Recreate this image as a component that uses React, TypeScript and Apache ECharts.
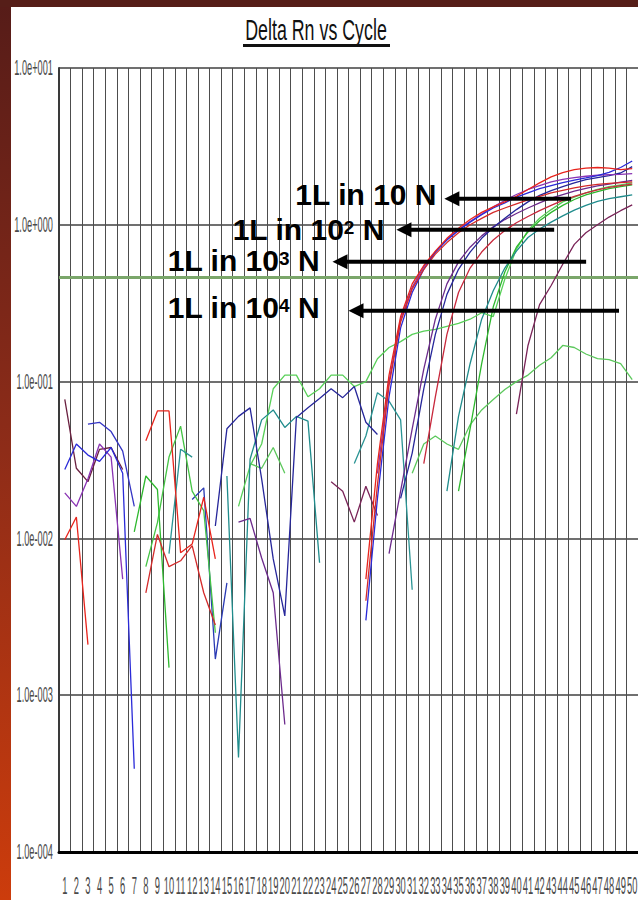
import React, { useEffect, useRef } from "react";
import * as echarts from "echarts";

const _ = null;

const cycles = [
  "1", "2", "3", "4", "5", "6", "7", "8", "9", "10",
  "11", "12", "13", "14", "15", "16", "17", "18", "19", "20",
  "21", "22", "23", "24", "25", "26", "27", "28", "29", "30",
  "31", "32", "33", "34", "35", "36", "37", "38", "39", "40",
  "41", "42", "43", "44", "45", "46", "47", "48", "49", "50",
];

const yTickValues = [10, 1, 0.1, 0.01, 0.001, 0.0001];
const yTickLabels = ["1.0e+001", "1.0e+000", "1.0e-001", "1.0e-002", "1.0e-003", "1.0e-004"];

const threshold = 0.46;

// ---- wells (Delta Rn per cycle, null = no plottable value) ----
const wellA1 = [
  0.0098, 0.0137, 0.0021, _, _, _, _, 0.042, 0.065, 0.065,
  0.0081, 0.0092, 0.0183, 0.0074, _, _, _, _, _, _,
  _, _, _, _, _, _, 0.0055, 0.03, 0.11, 0.26,
  0.42, 0.55, 0.68, 0.82, 0.95, 1.08, 1.2, 1.3, 1.4, 1.52,
  1.68, 1.85, 2.02, 2.15, 2.25, 2.3, 2.32, 2.3, 2.25, 2.28,
];
const wellA2 = [
  _, _, _, _, _, _, _, 0.0045, 0.0106, 0.0066,
  0.0072, 0.009, 0.0045, 0.0028, _, _, _, _, _, _,
  _, _, _, _, _, _, 0.004, 0.022, 0.095, 0.24,
  0.39, 0.52, 0.65, 0.77, 0.89, 1.0, 1.1, 1.2, 1.28, 1.36,
  1.44, 1.52, 1.6, 1.66, 1.72, 1.77, 1.81, 1.84, 1.86, 1.88,
];
const wellA3 = [
  0.0275, 0.04, 0.034, 0.031, 0.038, 0.026, 0.00034, _, _, _,
  _, _, _, _, _, _, _, _, _, _,
  _, _, _, _, _, _, 0.003, 0.018, 0.08, 0.22,
  0.37, 0.52, 0.67, 0.8, 0.92, 1.04, 1.16, 1.28, 1.38, 1.5,
  1.6, 1.7, 1.78, 1.86, 1.93, 1.99, 2.06, 2.16, 2.32, 2.55,
];
const wellA4 = [
  0.0195, 0.016, 0.024, 0.04, 0.033, 0.0055, _, _, _, _,
  _, _, _, _, _, _, _, _, _, _,
  _, _, _, _, _, _, _, 0.026, 0.1, 0.25,
  0.4, 0.54, 0.67, 0.81, 0.93, 1.05, 1.17, 1.3, 1.43, 1.56,
  1.68, 1.78, 1.88, 1.95, 2.0, 2.04, 2.07, 2.09, 2.1, 2.12,
];
const wellB1 = [
  _, _, _, _, _, _, _, _, _, _,
  _, _, _, _, _, 0.0127, 0.0134, 0.0075, 0.0045, 0.00065,
  _, _, _, _, _, _, _, _, 0.008, 0.02,
  0.05, 0.12, 0.25, 0.42, 0.58, 0.72, 0.85, 0.97, 1.08, 1.18,
  1.28, 1.38, 1.48, 1.56, 1.64, 1.71, 1.77, 1.82, 1.87, 1.92,
];
const wellB2 = [
  _, _, _, _, _, _, _, _, _, _,
  _, _, _, 0.012, 0.05, 0.06, 0.068, 0.024, 0.0074, 0.0032,
  0.059, 0.068, 0.078, 0.09, 0.079, 0.093, 0.055, 0.046, _, 0.018,
  0.035, 0.09, 0.2, 0.36, 0.52, 0.67, 0.82, 0.96, 1.1, 1.25,
  1.4, 1.54, 1.65, 1.75, 1.85, 1.94, 2.0, 2.06, 2.14, 2.35,
];
const wellB3 = [
  _, _, _, _, _, _, _, _, _, _,
  _, _, _, _, _, _, _, _, _, _,
  _, _, _, _, _, _, _, _, _, _,
  _, 0.03, 0.08, 0.2, 0.37, 0.53, 0.67, 0.8, 0.92, 1.03,
  1.13, 1.23, 1.33, 1.43, 1.52, 1.6, 1.67, 1.73, 1.78, 1.82,
];
const wellC1 = [
  _, _, _, _, _, _, _, _, _, _,
  _, _, _, _, 0.025, 0.0004, 0.032, 0.057, 0.066, 0.051,
  0.06, 0.056, 0.007, _, _, _, _, _, _, _,
  _, _, _, 0.02, 0.06, 0.13, 0.25, 0.38, 0.53, 0.68,
  0.83, 0.94, 1.04, 1.14, 1.24, 1.33, 1.41, 1.47, 1.51, 1.55,
];
const wellC2 = [
  _, _, _, _, _, _, 0.011, 0.025, 0.0205, 0.0015,
  _, _, _, _, _, _, _, _, _, _,
  _, _, _, _, _, _, _, _, _, _,
  _, _, _, _, 0.02, 0.05, 0.13, 0.3, 0.5, 0.72,
  0.9, 1.06, 1.2, 1.33, 1.45, 1.55, 1.63, 1.7, 1.75, 1.8,
];
const wellC3 = [
  _, _, _, _, _, _, _, _, _, _,
  _, _, _, _, _, 0.016, 0.029, 0.04, 0.09, 0.11,
  0.11, 0.08, 0.09, 0.11, 0.11, 0.093, 0.1, 0.14, 0.165, 0.18,
  0.2, 0.21, 0.215, 0.225, 0.235, 0.25, 0.275, 0.26, 0.45, 0.7,
  0.92, 1.1, 1.25, 1.4, 1.5, 1.6, 1.68, 1.75, 1.8, 1.85,
];
const wellG2 = [
  _, _, _, _, _, _, _, _, _, _,
  _, _, _, _, _, _, 0.03, 0.028, 0.038, 0.026,
  _, _, _, _, _, _, _, _, _, _,
  0.026, 0.04, 0.045, 0.04, 0.037, 0.053, 0.066, 0.077, 0.089, 0.1,
  0.11, 0.127, 0.142, 0.17, 0.165, 0.15, 0.14, 0.138, 0.13, 0.103,
];
const wellD1 = [
  _, _, _, _, _, _, _, _, _, _,
  _, _, _, _, _, _, _, _, _, _,
  _, _, _, 0.023, 0.02, 0.0127, 0.0215, 0.014, _, _,
  _, _, _, _, _, _, _, _, _, 0.062,
  0.17, 0.31, 0.41, 0.56, 0.75, 0.89, 1.0, 1.12, 1.23, 1.34,
];
const wellN1 = [
  0.077, 0.028, 0.023, 0.037, 0.038, 0.0275, _, _, _, _,
  _, _, _, _, _, _, _, _, _, _,
  _, _, _, _, _, _, _, _, _, _,
  _, _, _, _, _, _, _, _, _, _,
  _, _, _, _, _, _, _, _, _, _,
];
const wellN2 = [
  _, _, _, _, _, _, _, _, _, 0.008,
  0.037, 0.033, _, _, _, _, _, _, _, _,
  _, _, _, _, _, 0.03, 0.045, 0.085, 0.075, 0.057,
  0.0047, _, _, _, _, _, _, _, _, _,
  _, _, _, _, _, _, _, _, _, _,
];
const wellN4 = [
  _, _, 0.0535, 0.055, 0.048, 0.036, 0.016, _, _, _,
  _, _, _, _, _, _, _, _, _, _,
  _, _, _, _, _, _, _, _, _, _,
  _, _, _, _, _, _, _, _, _, _,
  _, _, _, _, _, _, _, _, _, _,
];
const wellN5 = [
  _, _, _, _, _, _, _, _, _, _,
  _, 0.0177, 0.021, 0.0017, 0.0052, _, _, _, _, _,
  _, _, _, _, _, _, _, _, _, _,
  _, _, _, _, _, _, _, _, _, _,
  _, _, _, _, _, _, _, _, _, _,
];
const wellN6 = [
  _, _, _, _, _, _, _, 0.0066, 0.0126, 0.033,
  0.052, 0.02, 0.015, 0.0025, _, _, _, _, _, _,
  _, _, _, _, _, _, _, _, _, _,
  _, _, _, _, _, _, _, _, _, _,
  _, _, _, _, _, _, _, _, _, _,
];

const wells: [string, (number | null)[], string][] = [
  ["N1", wellN1, "#6a2040"],
  ["N4", wellN4, "#3434c4"],
  ["N5", wellN5, "#2a3ab4"],
  ["N6", wellN6, "#44c444"],
  ["N2", wellN2, "#2a9494"],
  ["G2", wellG2, "#5cc85c"],
  ["C3", wellC3, "#58d058"],
  ["C2", wellC2, "#2eb82e"],
  ["C1", wellC1, "#1f8c8c"],
  ["D1", wellD1, "#7a2458"],
  ["B3", wellB3, "#c8283c"],
  ["B1", wellB1, "#6c2a8c"],
  ["B2", wellB2, "#26269a"],
  ["A4", wellA4, "#8a34b4"],
  ["A3", wellA3, "#2a2ad8"],
  ["A2", wellA2, "#d42a2a"],
  ["A1", wellA1, "#e8241c"],
];

// annotation anchors in data space (cycle, Delta Rn)
const annotations = [
  { text: "1L in 10", sup: "", textEnd: 33.1, tip: 33.78, tail: 44.72, level: 1.464, dy: -4 },
  { text: "1L in 10", sup: "2", textEnd: 28.6, tip: 29.64, tail: 43.26, level: 0.929, dy: 0 },
  { text: "1L in 10", sup: "3", textEnd: 23.0, tip: 24.12, tail: 46.02, level: 0.581, dy: -1 },
  { text: "1L in 10", sup: "4", textEnd: 23.0, tip: 25.5, tail: 48.86, level: 0.283, dy: -3 },
];

const titleText = "Delta Rn vs Cycle";
const SANS = "'Liberation Sans', Arial, Helvetica, sans-serif";

export default function App() {
  const ref = useRef<HTMLDivElement>(null);
  useEffect(() => {
    const el = ref.current;
    if (!el) return;
    const chart = echarts.init(el, null, { renderer: "svg" });

    const series: any[] = wells.map(([name, data, color], i) => ({
      name,
      type: "line",
      data,
      showSymbol: false,
      symbol: "none",
      connectNulls: false,
      lineStyle: { color, width: 1.3 },
      itemStyle: { color },
      z: 3,
      ...(i === 0
        ? {
            markLine: {
              silent: true,
              symbol: ["none", "none"],
              label: { show: false },
              lineStyle: { color: "#7aa66a", width: 3, type: "solid" },
              data: [{ yAxis: threshold }],
              z: 2,
            },
          }
        : {}),
    }));

    chart.setOption({
      animation: false,
      backgroundColor: "#ffffff",
      grid: { left: 59, top: 68, width: 580, height: 784, containLabel: false },
      xAxis: {
        type: "category",
        data: cycles,
        boundaryGap: true,
        axisLine: { onZero: false, lineStyle: { color: "#000000", width: 3 } },
        axisTick: { show: false },
        axisLabel: { show: false },
        splitLine: { show: true, interval: 0, lineStyle: { color: "#4d4d4d", width: 1 } },
      },
      yAxis: {
        type: "log",
        logBase: 10,
        min: 0.0001,
        max: 10,
        axisLine: { show: true, lineStyle: { color: "#3a3a3a", width: 2 } },
        axisTick: { show: false },
        axisLabel: { show: false },
        splitLine: { show: true, lineStyle: { color: "#707070", width: 2 } },
      },
      series,
    });

    const x0 = chart.convertToPixel({ xAxisIndex: 0 }, 0) as number;
    const x1 = chart.convertToPixel({ xAxisIndex: 0 }, 1) as number;
    const step = x1 - x0;
    const xAt = (c: number) => x0 + (c - 1) * step;
    const yAt = (v: number) => chart.convertToPixel({ yAxisIndex: 0 }, v) as number;

    const scaledText = (
      text: string, x: number, y: number, size: number, sx: number, sy: number,
      align: string, fill: string
    ) => ({
      type: "text",
      x,
      y,
      scaleX: sx,
      scaleY: sy,
      style: {
        text,
        font: `${size}px ${SANS}`,
        fill,
        textAlign: align,
        textVerticalAlign: "middle",
        align,
        verticalAlign: "middle",
      },
      z: 100,
    });

    const graphics: any[] = [];
    // frame strips
    graphics.push({
      type: "rect",
      shape: { x: 0, y: 0, width: 11, height: 900 },
      style: {
        fill: {
          type: "linear", x: 0, y: 0, x2: 0, y2: 1,
          colorStops: [
            { offset: 0, color: "#561c18" },
            { offset: 0.5, color: "#8e2c18" },
            { offset: 1, color: "#cc3c0c" },
          ],
        },
      },
      z: 100,
    });
    graphics.push({
      type: "rect",
      shape: { x: 0, y: 0, width: 638, height: 7 },
      style: { fill: "#561e18" },
      z: 100,
    });
    // title + underline
    graphics.push(scaledText(titleText, 316, 30, 22, 0.81, 1.35, "center", "#111111"));
    graphics.push({
      type: "rect",
      shape: { x: 243, y: 44, width: 147, height: 3 },
      style: { fill: "#111111" },
      z: 100,
    });
    // y tick labels
    yTickValues.forEach((v, i) => {
      graphics.push(scaledText(yTickLabels[i], 53, yAt(v), 12, 0.77, 1.85, "right", "#4a4a4a"));
    });
    // x tick labels
    cycles.forEach((c, i) => {
      graphics.push(scaledText(c, xAt(i + 1), 885, 11, 0.85, 2.2, "center", "#4a4a4a"));
    });
    // annotations
    annotations.forEach((a) => {
      const ay = yAt(a.level);
      const tipX = xAt(a.tip);
      const tailX = xAt(a.tail);
      graphics.push({
        type: "line",
        shape: { x1: tipX + 12, y1: ay, x2: tailX, y2: ay },
        style: { stroke: "#000000", lineWidth: 4 },
        z: 110,
      });
      graphics.push({
        type: "polygon",
        shape: { points: [[tipX, ay], [tipX + 15, ay - 7.5], [tipX + 15, ay + 7.5]] },
        style: { fill: "#000000" },
        z: 110,
      });
      const rich = a.sup
        ? `{b|${a.text}}{s|${a.sup}}{b| N}`
        : `{b|${a.text} N}`;
      graphics.push({
        type: "text",
        x: xAt(a.textEnd),
        y: ay + a.dy,
        style: {
          text: rich,
          textAlign: "right",
          textVerticalAlign: "middle",
          align: "right",
          verticalAlign: "middle",
          rich: {
            b: {
              fontFamily: SANS,
              fontWeight: "bold",
              fontSize: 30,
              fill: "#000000",
              color: "#000000",
              lineHeight: 24,
            },
            s: {
              fontFamily: SANS,
              fontWeight: "bold",
              fontSize: 19,
              fill: "#000000",
              color: "#000000",
              verticalAlign: "top",
              lineHeight: 16,
            },
          },
        },
        z: 110,
      });
    });

    chart.setOption({ graphic: graphics });

    return () => chart.dispose();
  }, []);

  return (
    <div
      ref={ref}
      style={{ position: "absolute", left: 0, top: 0, width: 638, height: 900, background: "#ffffff" }}
    />
  );
}
